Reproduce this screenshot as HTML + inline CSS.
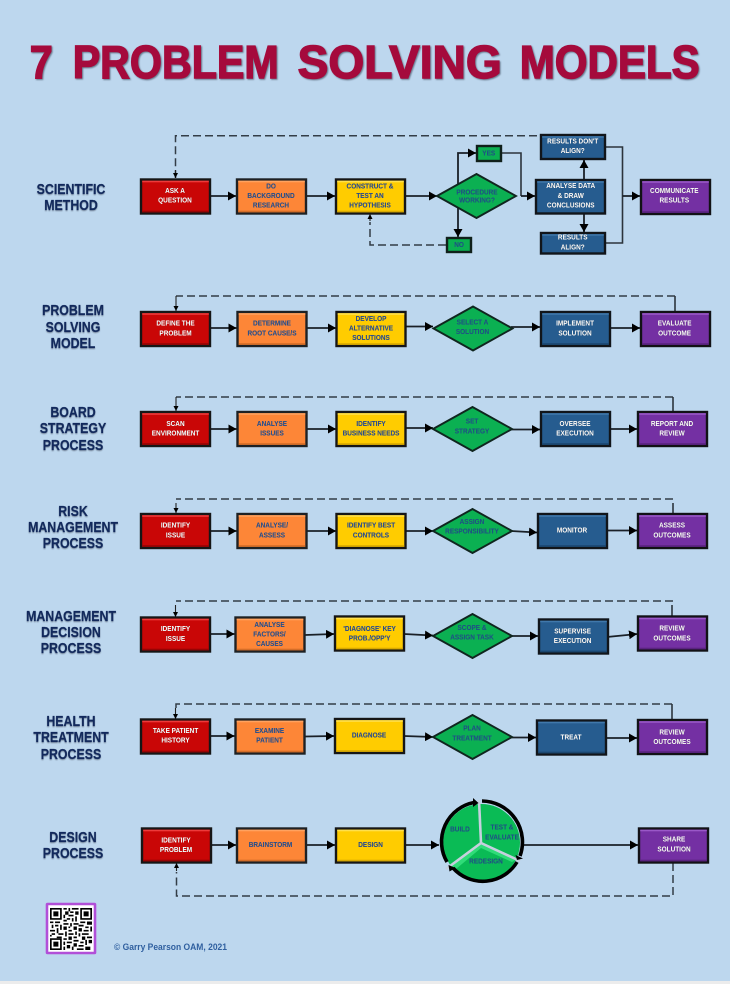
<!DOCTYPE html>
<html><head><meta charset="utf-8"><style>
html,body{margin:0;padding:0;background:#bdd7ee}
svg{display:block;filter:blur(.35px)}
text{font-family:"Liberation Sans",sans-serif;font-weight:bold}
.l text{font-size:7.5px;text-anchor:middle;dominant-baseline:central;transform-box:fill-box;transform-origin:center;transform:scaleX(.86)}
.w{filter:drop-shadow(.4px .5px .3px #222)}.w text{fill:#fff}
.d{filter:drop-shadow(.5px .5px .3px #777)}.d text{fill:#2a4d8a}
.g{filter:drop-shadow(.4px .4px .3px #2a7a55)}.g text{fill:#1c5288}
.h{filter:drop-shadow(.8px 1px .5px #7b8ca0)}
.h text{font-size:14.4px;fill:#12295c;stroke:#12295c;stroke-width:.2;text-anchor:middle;dominant-baseline:central;transform-box:fill-box;transform-origin:center;transform:scaleX(.86)}
.t{filter:drop-shadow(1.5px 1.5px .8px #66788c)}
.t text{font-size:46px;fill:#a50a3c;stroke:#a50a3c;stroke-width:1.4}
.c{fill:none;stroke:#1a2027;stroke-width:1.8;marker-end:url(#a)}
.n{fill:none;stroke:#2c343c;stroke-width:1.6}
.x{fill:none;stroke:#333d47;stroke-width:1.5;stroke-dasharray:8 4}
.s{fill:none;stroke:#222;stroke-width:1.1;marker-end:url(#b)}
</style></head><body>
<svg width="730" height="984" viewBox="0 0 730 984" xmlns="http://www.w3.org/2000/svg">
<defs>
<marker id="a" viewBox="0 0 8 9" refX="8" refY="4.5" markerWidth="8" markerHeight="9" orient="auto" markerUnits="userSpaceOnUse"><path d="M0 0L8 4.500L0 9z" fill="#000"/></marker>
<marker id="b" viewBox="0 0 5 5" refX="5" refY="2.5" markerWidth="5" markerHeight="5" orient="auto" markerUnits="userSpaceOnUse"><path d="M0 0L5 2.5L0 5z" fill="#000"/></marker>
<g id="R"><rect width="69" height="34" fill="#c90606" stroke="#161616" stroke-width="2.400"/><rect x="1.200" y="1.200" width="66.600" height="1.600" fill="#ee3a3a"/><rect x="1.200" y="31.200" width="66.600" height="1.600" fill="#960404"/></g>
<g id="O"><rect width="69" height="34" fill="#fd8637" stroke="#1e2124" stroke-width="2.400"/><rect x="1.200" y="1.200" width="66.600" height="1.600" fill="#ffa25f"/><rect x="1.200" y="31.200" width="66.600" height="1.600" fill="#d46d28"/></g>
<g id="Y"><rect width="69" height="34" fill="#ffcc00" stroke="#161616" stroke-width="2.400"/><rect x="1.200" y="1.200" width="66.600" height="1.600" fill="#ffe04d"/><rect x="1.200" y="31.200" width="66.600" height="1.600" fill="#d9a900"/></g>
<g id="B"><rect width="69" height="34" fill="#265c8f" stroke="#11151a" stroke-width="2.400"/><rect x="1.200" y="1.200" width="66.600" height="1.600" fill="#4078ab"/><rect x="1.200" y="31.200" width="66.600" height="1.600" fill="#1b4770"/></g>
<g id="P"><rect width="69" height="34" fill="#7430a3" stroke="#121216" stroke-width="2.400"/><rect x="1.200" y="1.200" width="66.600" height="1.600" fill="#9a58c8"/><rect x="1.200" y="31.200" width="66.600" height="1.600" fill="#5a2380"/></g>
<polygon id="D" points="-39.5,0 0,-22 39.5,0 0,22" fill="#0bb052" stroke="#10261f" stroke-width="1.900"/>
</defs>
<rect width="730" height="984" fill="#bdd7ee"/>
<rect y="981" width="730" height="3" fill="#ececec"/>

<g class="t">
<text x="29.700" y="78" textLength="23" lengthAdjust="spacingAndGlyphs">7</text>
<text x="72.700" y="78" textLength="206" lengthAdjust="spacingAndGlyphs">PROBLEM</text>
<text x="297.700" y="78" textLength="204" lengthAdjust="spacingAndGlyphs">SOLVING</text>
<text x="519.700" y="78" textLength="180" lengthAdjust="spacingAndGlyphs">MODELS</text>
</g>

<g class="h">
<text x="71" y="189">SCIENTIFIC</text><text x="71" y="205">METHOD</text>
<text x="73" y="310">PROBLEM</text><text x="73" y="327">SOLVING</text><text x="73" y="343">MODEL</text>
<text x="73" y="412">BOARD</text><text x="73" y="428">STRATEGY</text><text x="73" y="445">PROCESS</text>
<text x="73" y="511">RISK</text><text x="73" y="527">MANAGEMENT</text><text x="73" y="543">PROCESS</text>
<text x="71" y="616">MANAGEMENT</text><text x="71" y="632">DECISION</text><text x="71" y="648">PROCESS</text>
<text x="71" y="721">HEALTH</text><text x="71" y="737">TREATMENT</text><text x="71" y="754">PROCESS</text>
<text x="73" y="837">DESIGN</text><text x="73" y="853">PROCESS</text>
</g>

<!-- connectors -->
<path class="x" d="M537 135.7H175.5V178"/>
<path class="s" d="M175.5 170V178"/>
<path class="x" d="M446 245H370V222"/>
<path class="s" d="M370 221V214"/>
<path class="c" d="M211 196H236"/><path class="c" d="M306 196H335"/><path class="c" d="M406 196H437"/>
<path class="c" d="M458 185V153H476"/><path class="n" d="M502 153H521V196"/><path class="c" d="M521 196H535"/>
<path class="c" d="M458 206V237"/><path class="c" d="M584 179V160"/><path class="c" d="M584 214V232"/>
<path class="n" d="M606 147H622.5V243H606"/><path class="c" d="M622.5 196H640"/>

<path class="x" d="M675 296H176"/><path class="s" d="M176 296V311"/><path class="n" d="M675 296V311"/>
<path class="c" d="M210 328H236.500"/><path class="c" d="M306 328H336"/><path class="c" d="M406 326.500H433"/><path class="c" d="M511 327H540"/><path class="c" d="M610 328H640"/>

<path class="x" d="M673 397H176"/><path class="s" d="M176 397V411"/><path class="n" d="M673 397V411"/>
<path class="c" d="M210 429H236.500"/><path class="c" d="M306 429H336"/><path class="c" d="M406 428H433"/><path class="c" d="M511 429.500H540"/><path class="c" d="M610 429H637"/>

<path class="x" d="M673 499H176"/><path class="s" d="M176 503V513"/><path class="n" d="M673 503V513"/>
<path class="c" d="M210 531H236.500"/><path class="c" d="M306 531H336"/><path class="c" d="M406 531H433"/><path class="c" d="M511 531L537 532.500"/><path class="c" d="M607 530.500H637"/>

<path class="x" d="M673 601H176"/><path class="s" d="M175.500 605V617"/><path class="n" d="M672 605V616"/>
<path class="c" d="M210 634H234.500"/><path class="c" d="M305 635L334 634"/><path class="c" d="M404 634L433 635.500"/><path class="c" d="M511 636L538 636"/><path class="c" d="M607 637L637 634"/>

<path class="x" d="M672 704H176V708"/><path class="s" d="M175.500 708V719"/><path class="n" d="M672 704V719"/>
<path class="c" d="M210 736H234.500"/><path class="c" d="M305 736.500L334 736"/><path class="c" d="M404 736L433 737"/><path class="c" d="M511 737.500H536"/><path class="c" d="M606.500 738H637"/>

<path class="c" d="M211 845H236"/><path class="c" d="M306 845H335"/><path class="c" d="M405 845H439"/><path class="c" d="M524 845H638"/>
<path class="x" d="M673 863V896H176.500V872"/><path class="s" d="M176.500 871V863"/>

<!-- boxes row 1 -->
<use href="#R" x="141" y="179.500"/><use href="#O" x="237" y="179.500"/><use href="#Y" x="336" y="179.500"/>
<polygon points="437,196 476.500,174 516,196 476.500,218" fill="#0bb052" stroke="#10261f" stroke-width="1.900"/>
<g stroke="#11151a" stroke-width="2.400" fill="#265c8f"><rect x="541" y="135" width="64" height="24"/><rect x="536" y="180" width="69" height="33.500"/><rect x="541" y="233" width="64" height="20.500"/></g>
<g fill="#4078ab"><rect x="542.200" y="136.200" width="61.600" height="1.500"/><rect x="537.200" y="181.200" width="66.600" height="1.500"/><rect x="542.200" y="234.200" width="61.600" height="1.500"/></g>
<g stroke="#10201a" stroke-width="2.400" fill="#0bb052"><rect x="477" y="146" width="24" height="15"/><rect x="447" y="238" width="24" height="14"/></g>
<use href="#P" x="641" y="180"/>

<!-- row 2 --><use href="#R" x="141" y="312"/><use href="#O" x="237.500" y="312"/><use href="#Y" x="336.500" y="312"/><use href="#D" x="473" y="328.500"/><use href="#B" x="541" y="312"/><use href="#P" x="641" y="312"/>
<!-- row 3 --><use href="#R" x="141" y="412"/><use href="#O" x="237.500" y="412"/><use href="#Y" x="336.500" y="412"/><use href="#D" x="472.500" y="429"/><use href="#B" x="541" y="412"/><use href="#P" x="638" y="412"/>
<!-- row 4 --><use href="#R" x="141" y="514"/><use href="#O" x="237.500" y="514"/><use href="#Y" x="336.500" y="514"/><use href="#D" x="472.500" y="531"/><use href="#B" x="538" y="514"/><use href="#P" x="638" y="514"/>
<!-- row 5 --><use href="#R" x="141" y="617.500"/><use href="#O" x="235.500" y="617.500"/><use href="#Y" x="335" y="616.500"/><use href="#D" x="472.500" y="636"/><use href="#B" x="539" y="619.500"/><use href="#P" x="638" y="616.500"/>
<!-- row 6 --><use href="#R" x="141" y="719.500"/><use href="#O" x="235.500" y="719.500"/><use href="#Y" x="335" y="719"/><use href="#D" x="472.500" y="737"/><use href="#B" x="537" y="720.500"/><use href="#P" x="638" y="720"/>
<!-- row 7 --><use href="#R" x="142" y="828.500"/><use href="#O" x="237" y="828.500"/><use href="#Y" x="336" y="828.500"/><use href="#P" x="639" y="828.500"/>

<!-- cycle -->
<circle cx="481.500" cy="842.500" r="38.500" fill="#0abb55"/>
<path d="M481.500 843L450 866L456 869L481 848L512 862L517 859Z" fill="#2fdc78"/>
<g stroke="#c6d0de" stroke-width="2.600" fill="none"><path d="M481 843L479 800"/><path d="M481 843L520 861"/><path d="M481 843L446 869"/></g>
<g fill="none" stroke="#000" stroke-width="3.600">
<path d="M447 862A40 40 0 0 1 474 802.500"/><path d="M482 801A41 41 0 0 1 520 856"/><path d="M517 862A40 40 0 0 1 453 868"/>
</g>
<g fill="#000"><path d="M473 798L478.500 803L473 807z"/><path d="M515.500 855L523 858.500L517 860z"/><path d="M448.500 865L449.500 871.500L455.500 868z"/></g>

<!-- labels -->
<g class="l w">
<text x="175" y="191.500">ASK A</text><text x="175" y="201">QUESTION</text>
<text x="572.700" y="141.700">RESULTS DON'T</text><text x="572.700" y="151.300">ALIGN?</text>
<text x="570.700" y="186.300">ANALYSE DATA</text><text x="570.700" y="196.300">&amp; DRAW</text><text x="570.700" y="205.700">CONCLUSIONS</text>
<text x="572.700" y="238">RESULTS</text><text x="572.700" y="247.700">ALIGN?</text>
<text x="674.300" y="191.300">COMMUNICATE</text><text x="674.300" y="201">RESULTS</text>
<text x="175.500" y="324">DEFINE THE</text><text x="175.500" y="333.700">PROBLEM</text>
<text x="575" y="324">IMPLEMENT</text><text x="575" y="333.700">SOLUTION</text>
<text x="674.600" y="324">EVALUATE</text><text x="674.600" y="333.700">OUTCOME</text>
<text x="175.500" y="424.300">SCAN</text><text x="175.500" y="434">ENVIRONMENT</text>
<text x="575" y="424.300">OVERSEE</text><text x="575" y="434">EXECUTION</text>
<text x="672" y="424.300">REPORT AND</text><text x="672" y="434">REVIEW</text>
<text x="175.500" y="526">IDENTIFY</text><text x="175.500" y="536">ISSUE</text>
<text x="572" y="531">MONITOR</text>
<text x="672" y="526">ASSESS</text><text x="672" y="536">OUTCOMES</text>
<text x="175.500" y="629.300">IDENTIFY</text><text x="175.500" y="639.300">ISSUE</text>
<text x="572.600" y="631.700">SUPERVISE</text><text x="572.600" y="641.300">EXECUTION</text>
<text x="672" y="629">REVIEW</text><text x="672" y="638.700">OUTCOMES</text>
<text x="175.500" y="731.300">TAKE PATIENT</text><text x="175.500" y="741">HISTORY</text>
<text x="571" y="737.700">TREAT</text>
<text x="672" y="732.700">REVIEW</text><text x="672" y="742.300">OUTCOMES</text>
<text x="176" y="840.700">IDENTIFY</text><text x="176" y="850.300">PROBLEM</text>
<text x="674" y="840">SHARE</text><text x="674" y="849.700">SOLUTION</text>
</g>
<g class="l d">
<text x="271" y="186.700">DO</text><text x="271" y="196.300">BACKGROUND</text><text x="271" y="206">RESEARCH</text>
<text x="370" y="186.700">CONSTRUCT &amp;</text><text x="370" y="196.300">TEST AN</text><text x="370" y="206">HYPOTHESIS</text>
<text x="272" y="324">DETERMINE</text><text x="272" y="333.700">ROOT CAUSE/S</text>
<text x="371" y="319.300">DEVELOP</text><text x="371" y="328.700">ALTERNATIVE</text><text x="371" y="338.300">SOLUTIONS</text>
<text x="272" y="424.300">ANALYSE</text><text x="272" y="434">ISSUES</text>
<text x="371" y="424.300">IDENTIFY</text><text x="371" y="434">BUSINESS NEEDS</text>
<text x="272" y="526">ANALYSE/</text><text x="272" y="536">ASSESS</text>
<text x="371" y="526">IDENTIFY BEST</text><text x="371" y="536">CONTROLS</text>
<text x="269.500" y="625.300">ANALYSE</text><text x="269.500" y="635">FACTORS/</text><text x="269.500" y="644.300">CAUSES</text>
<text x="369.600" y="629.300">'DIAGNOSE' KEY</text><text x="369.600" y="639">PROB./OPP'Y</text>
<text x="269.500" y="731.300">EXAMINE</text><text x="269.500" y="741">PATIENT</text>
<text x="369" y="735.700">DIAGNOSE</text>
<text x="270.500" y="845.300">BRAINSTORM</text>
<text x="370.600" y="845.300">DESIGN</text>
</g>
<g class="l g">
<text x="477" y="192.700">PROCEDURE</text><text x="477" y="201">WORKING?</text>
<text x="488.700" y="154">YES</text><text x="459" y="245.300">NO</text>
<text x="472.500" y="322.700">SELECT A</text><text x="472.500" y="332.300">SOLUTION</text>
<text x="472" y="422">SET</text><text x="472" y="431.700">STRATEGY</text>
<text x="472" y="522.300">ASSIGN</text><text x="472" y="532">RESPONSIBILITY</text>
<text x="472" y="628.300">SCOPE &amp;</text><text x="472" y="638">ASSIGN TASK</text>
<text x="472" y="728.700">PLAN</text><text x="472" y="738.700">TREATMENT</text>
<text x="460" y="830">BUILD</text>
<text x="502" y="828">TEST &amp;</text><text x="502" y="838">EVALUATE</text>
<text x="486" y="862">REDESIGN</text>
</g>

<!-- QR -->
<rect x="47" y="904" width="48" height="49" fill="#fff" stroke="#b14fd8" stroke-width="2.600" rx=".5"/>
<g transform="translate(50 908) scale(1.68)" fill="#000">
<path fill-rule="evenodd" d="M0 0h7v7h-7zM1 1v5h5v-5zM18 0h7v7h-7zM19 1v5h5v-5zM0 18h7v7h-7zM1 19v5h5v-5z"/>
<path d="M2 2h3v3h-3zM20 2h3v3h-3zM2 20h3v3h-3z"/>
<path d="M8 0h2v1h-2zM11 0h1v2h-1zM13 0h4v1h-4zM9 2h2v2h-2zM12 2h2v1h-2zM15 2h2v2h-2zM8 4h1v2h-1zM11 4h3v1h-3zM10 6h2v1h-2zM13 6h1v2h-1zM15 5h1v3h-1zM8 7h2v1h-2z"/>
<path d="M0 8h2v1h-2zM3 8h3v1h-3zM8 9h3v1h-3zM12 9h1v2h-1zM14 9h3v1h-3zM18 8h3v1h-3zM22 8h3v2h-3zM1 10h1v2h-1zM3 10h2v1h-2zM6 10h1v3h-1zM8 11h2v2h-2zM11 11h1v1h-1zM14 11h2v2h-2zM17 10h3v1h-3zM21 11h2v1h-2zM24 11h1v3h-1z"/>
<path d="M0 13h3v1h-3zM4 12h1v3h-1zM11 13h2v1h-2zM17 12h2v2h-2zM20 13h3v1h-3zM1 15h2v1h-2zM5 15h3v1h-3zM9 14h1v3h-1zM11 15h3v1h-3zM15 14h1v2h-1zM17 15h1v2h-1zM19 15h4v1h-4zM0 16h1v1h-1zM4 17h3v1h-3zM11 17h2v2h-2zM14 17h2v1h-2zM19 17h2v2h-2zM22 17h3v1h-3z"/>
<path d="M8 18h2v1h-2zM14 19h3v1h-3zM18 20h2v1h-2zM21 19h1v3h-1zM23 19h2v2h-2zM8 20h1v2h-1zM10 20h3v1h-3zM14 21h2v2h-2zM17 22h3v1h-3zM10 22h2v2h-2zM13 23h1v2h-1zM16 24h4v1h-4zM21 23h3v2h-3zM8 23h1v2h-1z"/>
</g>
<text x="114" y="950" font-size="9" textLength="113" lengthAdjust="spacingAndGlyphs" fill="#2f5f9f">© Garry Pearson OAM, 2021</text>
</svg>
</body></html>
